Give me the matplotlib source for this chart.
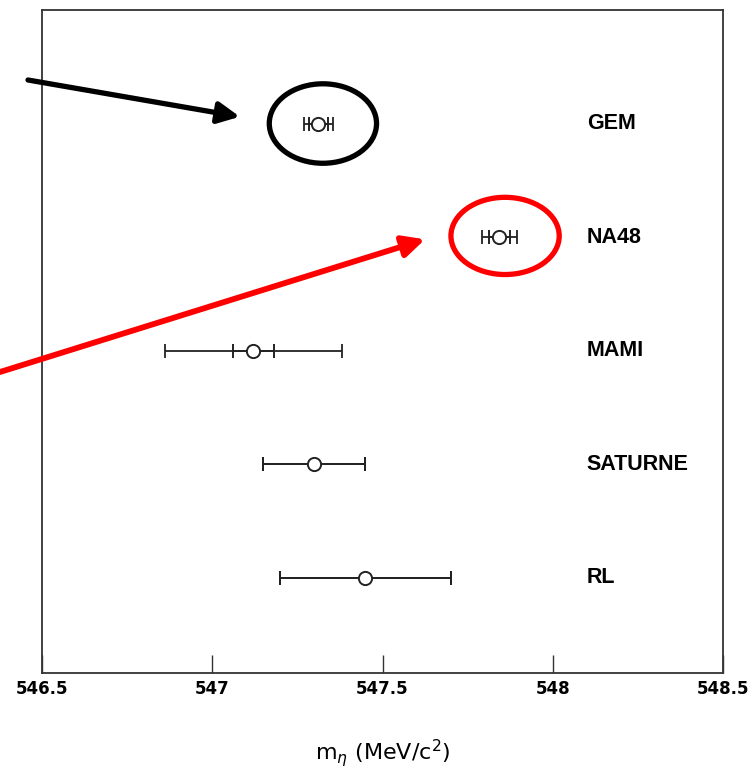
from matplotlib import pyplot as plt
from matplotlib.patches import Ellipse
import numpy as np

# eta mass measurements (MeV/c^2), top row first
experiments = ['GEM', 'NA48', 'MAMI', 'SATURNE', 'RL']
mass = [547.311, 547.843, 547.12, 547.30, 547.45]
err_stat = [0.028, 0.030, 0.06, 0.15, 0.25]
err_total = [0.043, 0.051, 0.26, 0.15, 0.25]

xticks = [546.5, 547, 547.5, 548, 548.5]
xticklabels = ['546.5', '547', '547.5', '548', '548.5']

rows = np.arange(len(experiments), 0, -1)

fig = plt.figure(figsize=(7.51, 7.77), dpi=100)
ax = fig.add_axes([42/751, 104/777, 681/751, 663/777])

# total error bars (outer caps) then statistical (inner caps)
ax.errorbar(mass, rows, xerr=err_total, fmt='none', ecolor='#222222',
            elinewidth=1.3, capsize=5, capthick=1.3, zorder=2)
ax.errorbar(mass, rows, xerr=err_stat, fmt='o', color='#222222',
            mfc='white', mec='#222222', mew=1.4, ms=9.5,
            elinewidth=1.3, capsize=5, capthick=1.3, zorder=3)

for r, name in zip(rows, experiments):
    ax.text(548.10, r, name, ha='left', va='center', fontsize=15.5,
            fontweight='bold', family='Liberation Sans')

ax.set_xlim(546.5, 548.5)
ax.set_ylim(0.16, 6.0)
ax.set_xticks(xticks)
ax.set_xticklabels(xticklabels, fontsize=12, fontweight='bold')
ax.set_yticks([])
ax.tick_params(axis='x', direction='in', length=13, width=1.0,
               color='#333333', pad=5)
for s in ax.spines.values():
    s.set_color('#333333')
    s.set_linewidth(1.3)

ax.set_xlabel(r'm$_\eta$ (MeV/c$^2$)', fontsize=16, labelpad=28)

# highlight the two precise results
ax.add_patch(Ellipse((547.325, 5.0), 0.315, 0.70, fill=False,
                     ec='black', lw=3.8, zorder=4))
ax.add_patch(Ellipse((547.86, 4.01), 0.318, 0.68, fill=False,
                     ec='#ff0000', lw=3.8, zorder=4))

ax.annotate('', xy=(547.081, 5.06), xycoords='data',
            xytext=(28/751, 697/777), textcoords='figure fraction',
            arrowprops=dict(arrowstyle='-|>,head_length=0.65,head_width=0.32',
                            mutation_scale=20, lw=3.8, color='black',
                            shrinkA=0, shrinkB=0),
            annotation_clip=False)
ax.annotate('', xy=(547.625, 3.98), xycoords='data',
            xytext=(0, 405/777), textcoords='figure fraction',
            arrowprops=dict(arrowstyle='-|>,head_length=0.65,head_width=0.32',
                            mutation_scale=20, lw=4.2, color='#ff0000',
                            shrinkA=0, shrinkB=0),
            annotation_clip=False)

plt.savefig('out.png', dpi=100)
